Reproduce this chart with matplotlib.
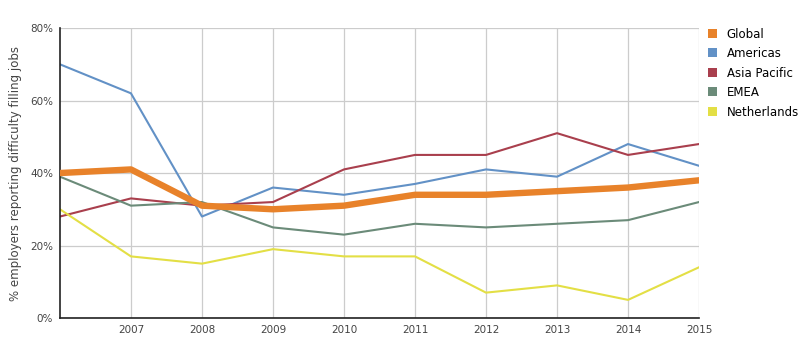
import matplotlib.pyplot as plt
from matplotlib.ticker import FuncFormatter
from matplotlib.patches import Patch

years = [2006, 2007, 2008, 2009, 2010, 2011, 2012, 2013, 2014, 2015]
global_vals = [40, 41, 31, 30, 31, 34, 34, 35, 36, 38]
americas = [70, 62, 28, 36, 34, 37, 41, 39, 48, 42]
asia_pacific = [28, 33, 31, 32, 41, 45, 45, 51, 45, 48]
emea = [39, 31, 32, 25, 23, 26, 25, 26, 27, 32]
netherlands = [30, 17, 15, 19, 17, 17, 7, 9, 5, 14]

series = [
    ('Global', global_vals, '#e8822a', 4.6),
    ('Americas', americas, '#6291c6', 1.5),
    ('Asia Pacific', asia_pacific, '#a93f4d', 1.5),
    ('EMEA', emea, '#6b8b79', 1.5),
    ('Netherlands', netherlands, '#e3df45', 1.5),
]

fig = plt.figure(figsize=(8.1, 3.51), dpi=100)
ax = fig.add_axes([0.074, 0.094, 0.789, 0.826])

# thin lines first, global drawn on top
for name, vals, color, lw in series[1:]:
    ax.plot(years, vals, color=color, lw=lw, label=name)
ax.plot(years, global_vals, color=series[0][2], lw=series[0][3], label='Global', zorder=3)

ax.set_xlim(2006, 2015)
ax.set_ylim(0, 80)
ax.set_xticks(years[1:])
ax.set_yticks([0, 20, 40, 60, 80])
ax.yaxis.set_major_formatter(FuncFormatter(lambda v, p: f'{v:.0f}%'))
ax.grid(True, color='#cccccc', lw=0.9)
ax.set_axisbelow(True)
ax.tick_params(length=0, labelsize=7.5, colors='#444444', pad=5)

for s in ['top', 'right']:
    ax.spines[s].set_visible(False)
for s in ['left', 'bottom']:
    ax.spines[s].set_color('#222222')
    ax.spines[s].set_linewidth(1.2)

ax.set_ylabel('% employers reporting difficulty filling jobs', fontsize=8.5,
              color='#444444', labelpad=6)

# legend with square swatches
handles = [Patch(facecolor=c, edgecolor='none', label=n) for n, v, c, lw in series]
fig.legend(handles=handles, loc='upper left', bbox_to_anchor=(0.868, 0.935),
           frameon=False, fontsize=8.5, handlelength=0.8, handleheight=0.8,
           handletextpad=0.8, labelspacing=0.55, borderaxespad=0)

fig.savefig('out.png', dpi=100)
